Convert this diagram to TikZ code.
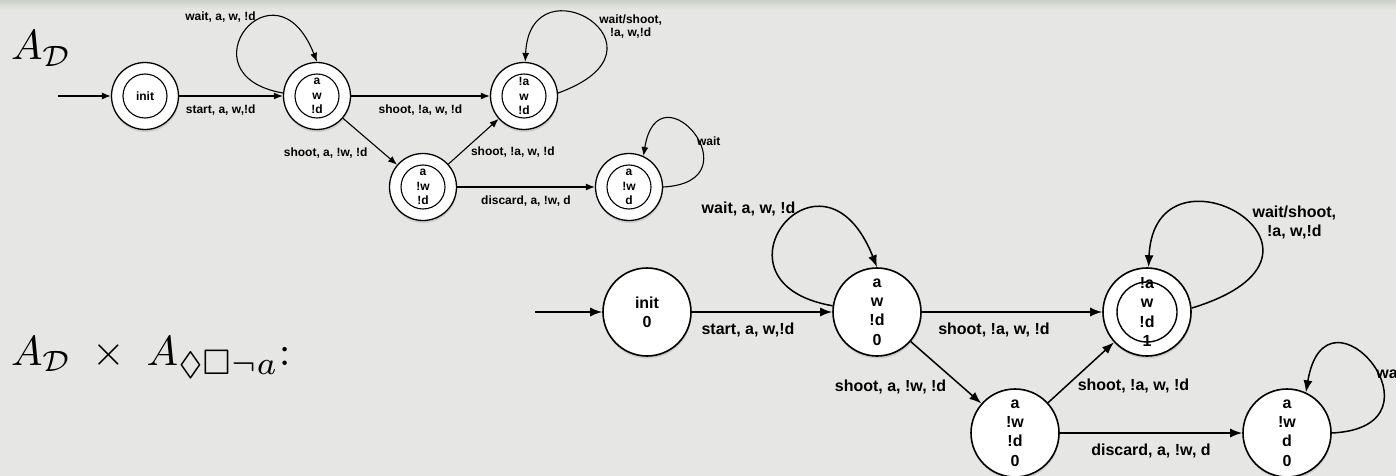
\documentclass[tikz,border=0pt]{standalone}
\usepackage{amssymb}
\usepackage{graphicx}
\usepackage{fontspec}
\setmainfont{Liberation Sans}
\usetikzlibrary{arrows.meta,shadows}
\definecolor{slidebg}{HTML}{E6E7E4}
\definecolor{slidetop}{HTML}{CCD1CA}

\begin{document}
\begin{tikzpicture}[x=1pt,y=-1pt,
  st/.style={circle, draw, fill=white, inner sep=0pt, align=center,
    drop shadow={shadow xshift=0.5pt, shadow yshift=-2.5pt, opacity=.25}},
  small/.style={st, line width=1.3pt, minimum size=67pt, font=\fontsize{12}{14.5}\selectfont\bfseries},
  big/.style={st, line width=1.6pt, minimum size=88pt, font=\fontsize{16}{19.3}\selectfont\bfseries},
  tr/.style={-{Latex[length=9pt,width=7pt]}, line width=1.1pt},
  trbig/.style={-{Latex[length=12pt,width=9pt]}, line width=1.5pt},
  lab/.style={font=\fontsize{12}{13}\selectfont\bfseries, inner sep=2pt, align=center},
  labbig/.style={font=\fontsize{16}{19}\selectfont\bfseries, inner sep=3pt, align=center}]

\useasboundingbox (0,0) rectangle (1396,476);
\fill[slidebg] (0,0) rectangle (1396,476);
\shade[top color=slidetop, bottom color=slidebg] (0,0) rectangle (1396,10);

\node[anchor=base west, inner sep=0pt] (titleD) at (11,60) {\scalebox{4.2}{$A_{\mathcal{D}}$}};
\node[anchor=base west, inner sep=0pt] (titleDA) at (11,365) {\scalebox{4.2}{$A_{\mathcal{D}}\;\times\; A_{\scalebox{1.1}{$\scriptstyle\Diamond\Box\neg a$}}{:}$}};

% D alone
\coordinate (s0) at (58,96);
\node[small] (i0) at (145,96) {init};
\node[small] (a0) at (317,96) {a\\w\\!d};
\node[small] (b0) at (524,96) {!a\\w\\!d};
\node[small] (c0) at (423,187) {a\\!w\\!d};
\node[small] (d0) at (629,187) {a\\!w\\d};
\foreach \n in {i0,a0,b0,c0,d0}
  \draw[line width=1.1pt] (\n.center) circle (22pt);

\draw[tr] (s0) -- (i0);
\draw[tr] (i0) -- (a0) node[lab, pos=0.4, below=6pt] {start, a, w,!d};
\draw[tr] (a0) -- (b0) node[lab, midway, below=6pt] {shoot, !a, w, !d};
\draw[tr] (a0) -- (c0) node[lab, midway, anchor=north east, yshift=-4pt] {shoot, a, !w, !d};
\draw[tr] (c0) -- (b0) node[lab, midway, anchor=north west, xshift=-5pt, yshift=-3pt] {shoot, !a, w, !d};
\draw[tr] (c0) -- (d0) node[lab, midway, below=6pt] {discard, a, !w, d};
\draw[tr] (a0.175) .. controls +(-103,-18) and +(-42,-107) .. (a0.90)
  node[lab, pos=0.65, anchor=east, xshift=-6pt, yshift=2pt] {wait, a, w, !d};
\draw[tr] (b0.5) .. controls +(125,-45) and +(5,-105) .. (b0.88)
  node[lab, pos=0.45, anchor=west] {wait/shoot,\\!a, w,!d};
\draw[tr] (d0.0) .. controls +(95,-5) and +(15,-93) .. (d0.65)
  node[lab, pos=0.45, anchor=west, xshift=-4pt] {wait};

% D x A
\coordinate (s1) at (535,312);
\node[big] (i1) at (647,312) {init\\0};
\node[big] (a1) at (877,312) {a\\w\\!d\\0};
\node[big] (b1) at (1147,312) {!a\\w\\!d\\1};
\node[big] (c1) at (1015,433) {a\\!w\\!d\\0};
\node[big] (d1) at (1287,433) {a\\!w\\d\\0};
\draw[line width=1.4pt] (b1.center) circle (30pt);

\draw[trbig] (s1) -- (i1);
\draw[trbig] (i1) -- (a1) node[labbig, pos=0.4, below=7pt] {start, a, w,!d};
\draw[trbig] (a1) -- (b1) node[labbig, pos=0.4, below=7pt] {shoot, !a, w, !d};
\draw[trbig] (a1) -- (c1) node[labbig, midway, anchor=north east, xshift=4pt, yshift=-4pt] {shoot, a, !w, !d};
\draw[trbig] (c1) -- (b1) node[labbig, midway, anchor=north west, xshift=-7pt, yshift=-3pt] {shoot, !a, w, !d};
\draw[trbig] (c1) -- (d1) node[labbig, midway, below=7pt] {discard, a, !w, d};
\draw[trbig] (a1.172) .. controls +(-134,-23) and +(-55,-139) .. (a1.90)
  node[labbig, pos=0.65, anchor=east, xshift=-9pt, yshift=2pt] {wait, a, w, !d};
\draw[trbig] (b1.5) .. controls +(180,-55) and +(6,-137) .. (b1.88)
  node[labbig, pos=0.45, anchor=west] {wait/shoot,\\!a, w,!d};
\draw[trbig] (d1.0) .. controls +(123,-6) and +(20,-120) .. (d1.65)
  node[labbig, pos=0.45, anchor=west, xshift=-5pt] {wait};

\end{tikzpicture}
\end{document}
